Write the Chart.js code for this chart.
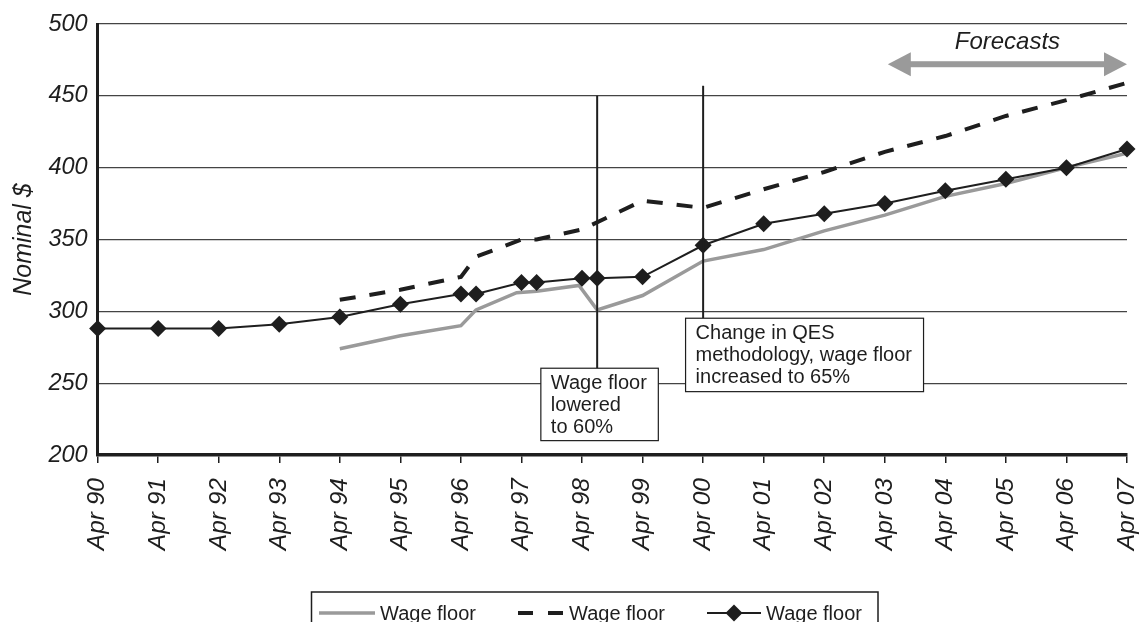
<!DOCTYPE html>
<html>
<head>
<meta charset="utf-8">
<script src="https://cdn.jsdelivr.net/npm/chart.js@4.4.0/dist/chart.umd.min.js"></script>
<style>
    html, body { margin: 0; padding: 0; background: #fff; }
    #wrap { width: 1142px; height: 622px; }
</style>
</head>
<body>
<div id="wrap"><canvas id="wageChart" width="1142" height="622"></canvas></div>
<script>
// x values are years after April 1990
const tickLabels = ["Apr 90", "Apr 91", "Apr 92", "Apr 93", "Apr 94", "Apr 95", "Apr 96", "Apr 97", "Apr 98",
    "Apr 99", "Apr 00", "Apr 01", "Apr 02", "Apr 03", "Apr 04", "Apr 05", "Apr 06", "Apr 07"];

const seriesLabels = ["Wage floor", "Wage floor", "Wage floor"];

const grayX = [4, 5, 6, 6.25, 6.92, 7.25, 7.95, 8.25, 9, 10, 11, 12, 13, 14, 15, 16, 17];
const grayValues = [274, 283, 290, 301, 313, 314, 318, 301, 311, 335, 343, 356, 367, 380, 389, 400, 410];

const dashedX = [4, 5, 6, 6.25, 7, 7.25, 8, 9, 10, 11, 12, 13, 14, 15, 16, 17];
const dashedValues = [308, 315, 324, 338, 350, 350, 357, 377, 372, 385, 397, 411, 422, 436, 447, 459];

const diamondX = [0, 1, 2, 3, 4, 5, 6, 6.25, 7, 7.25, 8, 8.25, 9, 10, 11, 12, 13, 14, 15, 16, 17];
const diamondValues = [288, 288, 288, 291, 296, 305, 312, 312, 320, 320, 323, 323, 324, 346, 361, 368, 375, 384, 392, 400, 413];

// notes on the chart, placed in data units
const noteBoxes = [
    { x0: 7.32, x1: 9.26, yTop: 260.4, yBottom: 210, lineX: 8.25, lineTop: 450,
      lines: ["Wage floor", "lowered", "to 60%"] },
    { x0: 9.71, x1: 13.64, yTop: 295.2, yBottom: 244.1, lineX: 10, lineTop: 457,
      lines: ["Change in QES", "methodology, wage floor", "increased to 65%"] }
];
const forecastArrow = { from: 13.05, to: 17, y: 472, label: "Forecasts", labelY: 487 };

const FONT = "'Liberation Sans', Arial, Helvetica, sans-serif";
const INK = "#1e1e1e";

function toPoints(xs, ys) {
    return xs.map((x, i) => ({ x: x, y: ys[i] }));
}

/* -------------------------------
   Notes, vertical markers, forecast arrow
---------------------------------*/
const notesPlugin = {
    id: "notes",
    afterDatasetsDraw(chart) {
        const ctx = chart.ctx;
        const xs = chart.scales.x;
        const ys = chart.scales.y;
        ctx.save();

        noteBoxes.forEach(n => {
            const left = xs.getPixelForValue(n.x0);
            const right = xs.getPixelForValue(n.x1);
            const top = ys.getPixelForValue(n.yTop);
            const bottom = ys.getPixelForValue(n.yBottom);
            const lx = xs.getPixelForValue(n.lineX);

            ctx.strokeStyle = INK;
            ctx.lineWidth = 2;
            ctx.beginPath();
            ctx.moveTo(lx, ys.getPixelForValue(n.lineTop));
            ctx.lineTo(lx, top);
            ctx.stroke();

            ctx.fillStyle = "#fff";
            ctx.fillRect(left, top, right - left, bottom - top);
            ctx.lineWidth = 1.2;
            ctx.strokeRect(left, top, right - left, bottom - top);

            ctx.fillStyle = INK;
            ctx.font = "20px " + FONT;
            ctx.textAlign = "left";
            ctx.textBaseline = "middle";
            n.lines.forEach((t, i) => ctx.fillText(t, left + 10, top + 15 + i * 22));
        });

        // double-headed forecast arrow
        const a0 = xs.getPixelForValue(forecastArrow.from);
        const a1 = xs.getPixelForValue(forecastArrow.to);
        const ay = ys.getPixelForValue(forecastArrow.y);
        const head = 23, half = 12;
        ctx.fillStyle = "#9a9a9a";
        ctx.fillRect(a0 + head - 2, ay - 3, a1 - a0 - 2 * head + 4, 6);
        ctx.beginPath();
        ctx.moveTo(a0, ay);
        ctx.lineTo(a0 + head, ay - half);
        ctx.lineTo(a0 + head, ay + half);
        ctx.closePath();
        ctx.fill();
        ctx.beginPath();
        ctx.moveTo(a1, ay);
        ctx.lineTo(a1 - head, ay - half);
        ctx.lineTo(a1 - head, ay + half);
        ctx.closePath();
        ctx.fill();

        ctx.fillStyle = INK;
        ctx.font = "italic 24px " + FONT;
        ctx.textAlign = "center";
        ctx.textBaseline = "middle";
        ctx.fillText(forecastArrow.label, (a0 + a1) / 2, ys.getPixelForValue(forecastArrow.labelY));

        ctx.restore();
    }
};

/* -------------------------------
   Boxed legend at the bottom
---------------------------------*/
const boxLegendPlugin = {
    id: "boxLegend",
    afterDraw(chart) {
        const ctx = chart.ctx;
        const sets = chart.data.datasets;
        const rowY = 613;
        const starts = [319, 518, 707];
        const widths = [56, 46, 54];
        ctx.save();

        ctx.strokeStyle = INK;
        ctx.lineWidth = 1.5;
        ctx.strokeRect(311.5, 592, 566.5, 40);

        sets.forEach((ds, i) => {
            const x0 = starts[i];
            const x1 = x0 + widths[i];
            ctx.strokeStyle = ds.borderColor;
            ctx.lineWidth = ds.borderWidth;
            ctx.setLineDash(i === 1 ? [15, 15] : []);
            ctx.beginPath();
            ctx.moveTo(x0, rowY);
            ctx.lineTo(x1, rowY);
            ctx.stroke();
            ctx.setLineDash([]);
            if (ds.pointStyle === "rectRot") {
                const m = (x0 + x1) / 2, r = ds.pointRadius;
                ctx.fillStyle = ds.pointBackgroundColor;
                ctx.beginPath();
                ctx.moveTo(m - r, rowY);
                ctx.lineTo(m, rowY - r);
                ctx.lineTo(m + r, rowY);
                ctx.lineTo(m, rowY + r);
                ctx.closePath();
                ctx.fill();
            }
            ctx.fillStyle = INK;
            ctx.font = "20px " + FONT;
            ctx.textAlign = "left";
            ctx.textBaseline = "middle";
            ctx.fillText(ds.label, x1 + 5, rowY + 1);
        });
        ctx.restore();
    }
};

const ctx = document.getElementById("wageChart").getContext("2d");

new Chart(ctx, {
    type: "line",
    data: {
        datasets: [
            {
                label: seriesLabels[0],
                data: toPoints(grayX, grayValues),
                borderColor: "#9a9a9a",
                borderWidth: 3.5,
                pointRadius: 0,
                tension: 0,
                order: 3
            },
            {
                label: seriesLabels[1],
                data: toPoints(dashedX, dashedValues),
                borderColor: INK,
                borderWidth: 4,
                borderDash: [16, 14],
                pointRadius: 0,
                tension: 0,
                order: 2
            },
            {
                label: seriesLabels[2],
                data: toPoints(diamondX, diamondValues),
                borderColor: INK,
                borderWidth: 2,
                pointStyle: "rectRot",
                pointRadius: 8.5,
                pointBackgroundColor: INK,
                pointBorderColor: INK,
                pointBorderWidth: 0,
                tension: 0,
                clip: false,
                order: 1
            }
        ]
    },
    options: {
        responsive: false,
        maintainAspectRatio: false,
        animation: false,
        events: [],
        layout: { padding: { top: 24, right: 15, left: 0, bottom: 0 } },
        plugins: {
            legend: { display: false },
            tooltip: { enabled: false }
        },
        scales: {
            x: {
                type: "linear",
                min: 0,
                max: 17,
                afterFit: (s) => {
                    s.height = 167;
                    s.paddingLeft = 0;
                    s.paddingRight = 0;
                },
                ticks: {
                    stepSize: 1,
                    autoSkip: false,
                    minRotation: 90,
                    maxRotation: 90,
                    padding: 15,
                    color: INK,
                    font: { family: FONT, size: 24.5, style: "italic" },
                    callback: (v) => tickLabels[v]
                },
                grid: {
                    drawOnChartArea: false,
                    drawTicks: true,
                    tickLength: 8,
                    color: INK,
                    lineWidth: 1.5
                },
                border: { display: true, width: 3.5, color: INK }
            },
            y: {
                min: 200,
                max: 500,
                afterFit: (s) => {
                    s.width = 97.6;
                    s.paddingTop = 0;
                    s.paddingBottom = 0;
                },
                ticks: {
                    stepSize: 50,
                    padding: 10,
                    color: INK,
                    font: { family: FONT, size: 23.5, style: "italic" }
                },
                grid: { drawTicks: false, color: "#444", lineWidth: 1.2 },
                border: { display: true, width: 3, color: INK },
                title: {
                    display: true,
                    text: "Nominal $",
                    color: INK,
                    padding: { top: 9, bottom: 0 },
                    font: { family: FONT, size: 25, style: "italic" }
                }
            }
        }
    },
    plugins: [notesPlugin, boxLegendPlugin]
});
</script>
</body>
</html>
